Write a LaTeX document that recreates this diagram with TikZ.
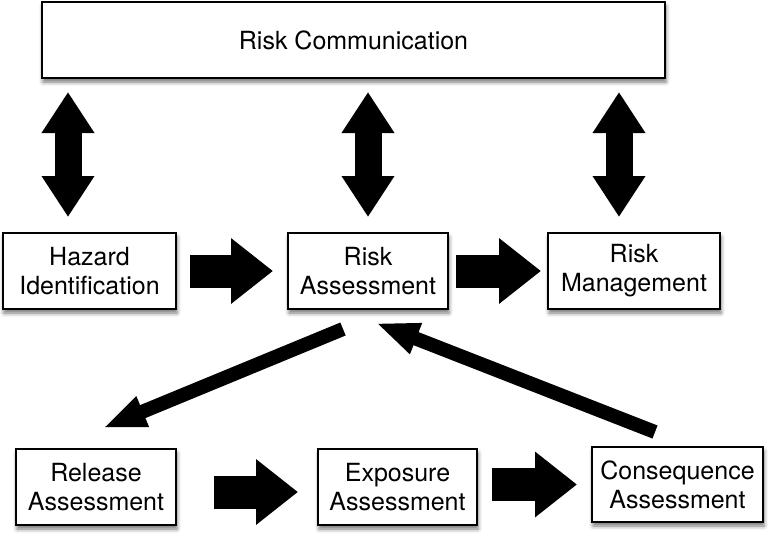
\documentclass[tikz,border=0pt]{standalone}
\usepackage{fontspec}
\setmainfont{TeX Gyre Heros}
\usetikzlibrary{arrows.meta,shadows.blur,calc}
\begin{document}
\begin{tikzpicture}[x=1pt,y=-1pt,
  box/.style={draw=black, line width=2pt, fill=white, align=center, inner sep=0pt,
    blur shadow={shadow xshift=1pt, shadow yshift=-4pt, shadow blur radius=4pt, shadow opacity=55},
    font=\fontsize{25}{29}\selectfont, minimum height=76pt},
  bigh/.style={line width=33pt, -{Triangle[length=42pt,width=63pt]}},
  bigv/.style={line width=27pt, {Triangle[length=41pt,width=50pt]}-{Triangle[length=41pt,width=50pt]}},
  diag/.style={line width=14pt, -{Triangle[length=43pt,width=30pt]}}]
\useasboundingbox (0,0) rectangle (776,536);

\node[box, minimum width=623pt] (comm) at (353.5,40) {Risk Communication};
\node[box, minimum width=173pt] (haz) at (89.5,271) {Hazard\\Identification};
\node[box, minimum width=160pt] (ra) at (368,271) {Risk\\Assessment};
\node[box, minimum width=172pt] (rm) at (634,271) {Risk\\Management};
\node[box, minimum width=160pt] (rel) at (96,487) {Release\\Assessment};
\node[box, minimum width=159pt] (exp) at (397.5,487) {Exposure\\Assessment};
\node[box, minimum width=171pt, minimum height=75pt] (con) at (677.5,484.5) {Consequence\\Assessment};

% vertical double arrows
\coordinate (v1) at (68,0);
\coordinate (v3) at (619,0);
\draw[bigv, shorten <=13pt, shorten >=15pt] (comm.south -| v1) -- (haz.north -| v1);
\draw[bigv, shorten <=13pt, shorten >=15pt] (comm.south -| ra.north) -- (ra.north);
\draw[bigv, shorten <=13pt, shorten >=15pt] (comm.south -| v3) -- (rm.north -| v3);

% horizontal arrows
\draw[bigh, shorten <=13pt, shorten >=14pt] (haz.east) -- (ra.west);
\draw[bigh, shorten <=7pt, shorten >=6pt] (ra.east) -- (rm.west);
\draw[bigh, shorten <=37pt, shorten >=19pt] ($(rel.east)+(0,5)$) -- ($(exp.west)+(0,5)$);
\draw[bigh, shorten <=14pt, shorten >=14pt] (exp.east |- con.west) -- (con.west);

% diagonal arrows
\coordinate (d1s) at (343,329);
\coordinate (d1e) at (103,428);
\coordinate (d2s) at (655,432);
\coordinate (d2e) at (376,323);
\draw[diag] (d1s) -- (d1e);
\draw[diag] (d2s) -- (d2e);
\end{tikzpicture}
\end{document}
